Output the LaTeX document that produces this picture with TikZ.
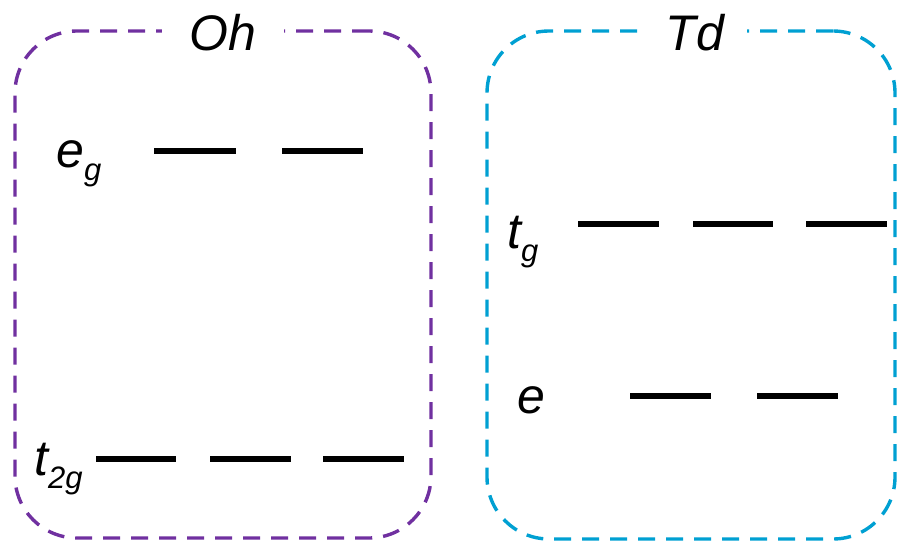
\documentclass[tikz,border=0pt]{standalone}
\usepackage{fontspec}
\setmainfont{Liberation Sans}
\definecolor{ohc}{RGB}{112,48,160}
\definecolor{tdc}{RGB}{0,160,210}
\newcommand{\sbs}[1]{\raisebox{-13pt}{\fontsize{31}{31}\selectfont #1}}
\begin{document}
\begin{tikzpicture}[x=1pt,y=-1pt,
  lvl/.style={line width=5.5pt},
  frame/.style={draw, dash pattern=on 17pt off 11pt, line width=3.4pt, rounded corners=62pt, inner sep=0pt},
  big/.style={font=\fontsize{50}{50}\selectfont\itshape, inner sep=0pt}]
\useasboundingbox (0,0) rectangle (897,541);
% frames
\node[frame, draw=ohc, minimum width=416pt, minimum height=507pt] (oh) at (223,284.5) {};
\node[frame, draw=tdc, minimum width=408pt, minimum height=508pt] (td) at (691,285) {};
% titles
\node[big, fill=white, inner xsep=28pt, anchor=base] (ohl) at (223,50) {Oh};
\node[big, fill=white, inner xsep=23pt, anchor=base] (tdl) at (695,50) {Td};
% labels
\node[big, anchor=base west] (eg) at (56,167) {e\sbs{g}};
\node[big, anchor=base west] (t2g) at (34,475) {t\sbs{2g}};
\node[big, anchor=base west] (tg) at (507,248) {t\sbs{g}};
\node[big, anchor=base west] (e) at (517,413) {e};
% levels Oh
\draw[lvl] (154,151) -- (236,151);
\draw[lvl] (282,151) -- (363,151);
\draw[lvl] (96,459) -- (176,459);
\draw[lvl] (210,459) -- (291,459);
\draw[lvl] (323,459) -- (404,459);
% levels Td
\draw[lvl] (578,224) -- (659,224);
\draw[lvl] (693,224) -- (773,224);
\draw[lvl] (806,224) -- (887,224);
\draw[lvl] (630,396) -- (711,396);
\draw[lvl] (757,396) -- (838,396);
\end{tikzpicture}
\end{document}
